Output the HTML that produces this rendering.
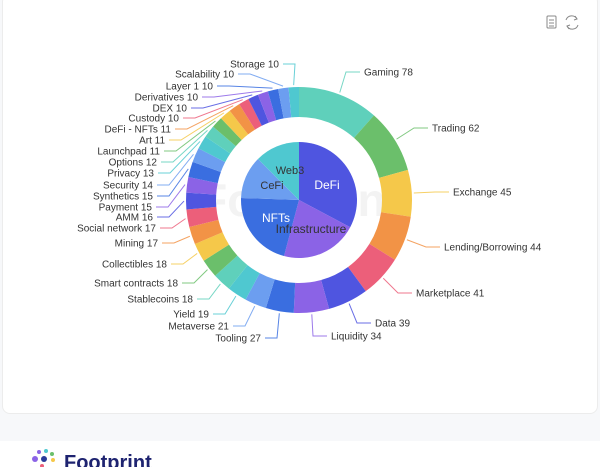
<!DOCTYPE html>
<html><head><meta charset="utf-8"><style>
html,body{margin:0;padding:0;width:600px;height:467px;overflow:hidden;background:#f7f8fa;font-family:"Liberation Sans",sans-serif}
#card{position:absolute;left:2px;top:-6px;width:594px;height:418px;background:#fff;border:1px solid #ececec;border-radius:8px}
#foot{position:absolute;left:0;top:441px;width:600px;height:26px;background:#fff}
svg{position:absolute;left:0;top:0}
</style></head><body>
<div id="card"></div>
<div id="foot"></div>
<svg id="s" width="600" height="467" viewBox="0 0 600 467">
<text x="300" y="216" font-size="46" font-weight="bold" fill="#f3f3f3" text-anchor="middle" font-family="Liberation Sans, sans-serif">Footprint</text>
<g fill="none" stroke="#888" stroke-width="1">
<rect x="547" y="16" width="9" height="12" rx="1"/>
<line x1="549" y1="20" x2="554" y2="20"/><line x1="549" y1="23" x2="554" y2="23"/><line x1="549" y1="26" x2="554" y2="26"/>
<path d="M566 20 A6 6 0 0 1 577 19 M578 25 A6 6 0 0 1 567 26"/>
<path d="M575 16 L577 19 L574 20 M569 29 L567 26 L570 25"/>
</g>
<g transform="translate(30,449)">
<circle cx="5" cy="10" r="3" fill="#8b63e6"/><circle cx="14" cy="10" r="3" fill="#2a3a9a"/>
<circle cx="9" cy="3" r="2" fill="#8b63e6"/><circle cx="16" cy="2" r="2" fill="#4fc8d0"/>
<circle cx="22" cy="5" r="2" fill="#6bbf6b"/><circle cx="23" cy="11" r="2" fill="#f5c84a"/>
<circle cx="12" cy="17" r="2" fill="#ec5f7a"/>
<text x="34" y="20" font-size="20" font-weight="bold" fill="#1e2370">Footprint</text>
</g>
</svg>
<script>
const s=document.getElementById('s'),NS='http://www.w3.org/2000/svg';
const cx=299,cy=200,R=113,r=83,PR=58;
const pal=['#5fd0bb','#6bbf6b','#f5c84a','#f29346','#ec5f7a','#4f55e0','#8b63e6','#3a6ee0','#6c9ef0','#4fc8d0'];
const data=[['Gaming',78,'R',364,72],['Trading',62,'R',432,128],['Exchange',45,'R',453,192],['Lending/Borrowing',44,'R',444,247],['Marketplace',41,'R',416,293],['Data',39,'R',375,323],['Liquidity',34,'R',331,336],
['Tooling',27,'L',261,338],['Metaverse',21,'L',229,326],['Yield',19,'L',209,314],['Stablecoins',18,'L',193,299],['Smart contracts',18,'L',178,283],['Collectibles',18,'L',167,264],['Mining',17,'L',158,243],['Social network',17,'L',156,228],['AMM',16,'L',153,217],['Payment',15,'L',152,207],['Synthetics',15,'L',153,196],['Security',14,'L',153,185],['Privacy',13,'L',154,173],['Options',12,'L',157,162],['Launchpad',11,'L',160,151],['Art',11,'L',165,140],['DeFi - NFTs',11,'L',171,129],['Custody',10,'L',179,118],['DEX',10,'L',187,108],['Derivatives',10,'L',198,97],['Layer 1',10,'L',213,86],['Scalability',10,'L',234,74],['Storage',10,'L',279,64]];
function pt(a,rad){const t=(a-90)*Math.PI/180;return [cx+rad*Math.cos(t),cy+rad*Math.sin(t)];}
function el(n,at,p){const e=document.createElementNS(NS,n);for(const k in at)e.setAttribute(k,at[k]);(p||s).appendChild(e);return e;}
function arc(a0,a1,ro,ri,fill){const l=(a1-a0)>180?1:0;const[p0,p1,p2,p3]=[pt(a0,ro),pt(a1,ro),pt(a1,ri),pt(a0,ri)];
let d=`M${p0} A${ro} ${ro} 0 ${l} 1 ${p1}`;d+=ri>0?` L${p2} A${ri} ${ri} 0 ${l} 0 ${p3} Z`:` L${cx},${cy} Z`;el('path',{d,fill});}
const tot=data.reduce((a,b)=>a+b[1],0);let a=0;
data.forEach((d,i)=>{const sw=d[1]/tot*360,c=pal[i%10];arc(a,a+sw,R,r,c);
const m=a+sw/2,p=pt(m,R+2);const tx=d[2]=='R'?d[3]-4:d[3]+4,ex=d[2]=='R'?tx-14:tx+12;
el('polyline',{points:`${p} ${ex},${d[4]} ${tx},${d[4]}`,fill:'none',stroke:c,'stroke-width':1,opacity:.85});
const t=el('text',{x:d[3],y:d[4]+3.5,'font-size':10,fill:'#333','text-anchor':d[2]=='R'?'start':'end'});t.textContent=d[0]+' '+d[1];
a+=sw;});
const pie=[[0,118,'#4f55e0'],[118,195,'#8b63e6'],[195,272,'#3a6ee0'],[272,315,'#6c9ef0'],[315,360,'#4fc8d0']];
pie.forEach(p=>arc(p[0],p[1],PR,0,p[2]));
[['DeFi',327,189,'#fff',12],['Infrastructure',311,233,'#333',12],['NFTs',276,222,'#fff',12],['CeFi',272,189,'#333',11],['Web3',290,174,'#333',11]].forEach(l=>{const t=el('text',{x:l[1],y:l[2],'font-size':l[4],fill:l[3],'text-anchor':'middle'});t.textContent=l[0];});
</script>
</body></html>
